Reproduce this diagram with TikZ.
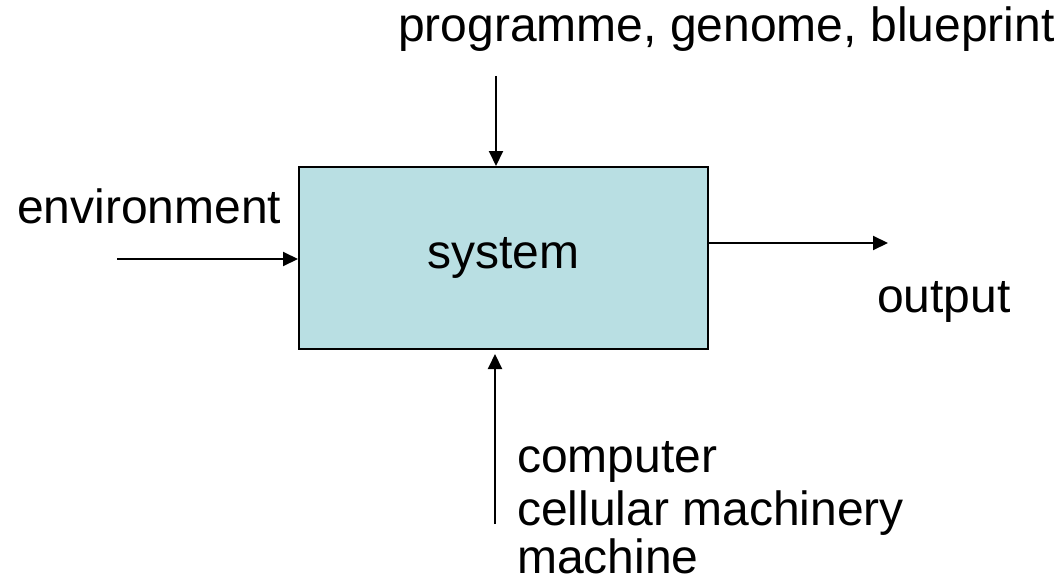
\documentclass[tikz,border=0pt]{standalone}
\usepackage{fontspec}
\setmainfont{Liberation Sans}
\usepackage{tikz}
\usetikzlibrary{arrows.meta,calc,positioning}

\definecolor{boxfill}{RGB}{185,223,227}

\begin{document}
\begin{tikzpicture}[
    x=1pt, y=-1pt,
    every node/.style={font=\fontsize{48}{52}\selectfont, inner sep=0pt},
    >={Triangle[length=15pt,width=14pt]},
    flow/.style={->, line width=2pt},
    label/.style={anchor=base west}
]
\useasboundingbox (0,0) rectangle (1059,583);

% System box
\node[draw, line width=2pt, fill=boxfill,
      minimum width=409pt, minimum height=182pt] (sys) at (503.5,258)
    {system};

% Labels
\node[label] (prog) at (398,42)
    {programme, genome, blueprint};
\node[label] (env) at (17,223)
    {environment};
\node[label] (out) at (877,312)
    {output};
\node[label] (comp) at (517,472)
    {computer};
\node[label] (cell) at (517,525)
    {cellular machinery};
\node[label] (mach) at (517,573)
    {machine};

% Free ends of the arrows
\coordinate (progend) at (496,76);
\coordinate (envend) at (117,259);
\coordinate (outend) at (888,243);
\coordinate (machend) at (495,524);

% Arrows
\draw[flow]
    (progend)
    --
    (progend |- sys.north);
\draw[flow]
    (envend)
    --
    (envend -| sys.west);
\draw[flow]
    (outend -| sys.east)
    --
    (outend);
\draw[flow]
    (machend)
    --
    ($(machend |- sys.south)+(0,4)$);

\end{tikzpicture}
\end{document}
